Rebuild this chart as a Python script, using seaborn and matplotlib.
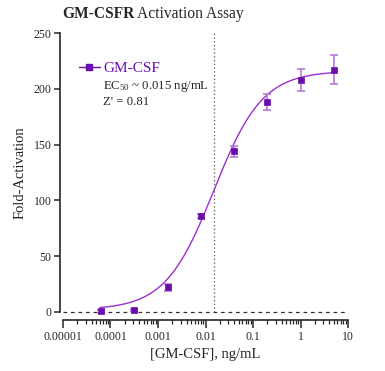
import numpy as np
import pandas as pd
import matplotlib
matplotlib.use("Agg")
import matplotlib.pyplot as plt
import seaborn as sns
from matplotlib.lines import Line2D
from matplotlib.ticker import FixedLocator, LogLocator, NullFormatter

# ---- data ----
conc = [0.000064, 0.00032, 0.0016, 0.008, 0.04, 0.2, 1.0, 5.0]
fold = [0.5, 1.5, 22, 86, 144, 188, 208, 217]
err = [1, 1, 3, 2, 5, 7, 10, 13]

# 4PL fit parameters
fit_bottom = 2.0
fit_top = 216.0
fit_ec50 = 0.015
fit_hill = 0.85

x_ticks = [0.00001, 0.0001, 0.001, 0.01, 0.1, 1, 10]
x_tick_labels = ["0.00001", "0.0001", "0.001", "0.01", "0.1", "1", "10"]
y_ticks = [0, 50, 100, 150, 200, 250]

sns.set_style("ticks")
plt.rcParams["font.family"] = ["Liberation Serif", "DejaVu Serif"]
plt.rcParams["mathtext.fontset"] = "custom"
plt.rcParams["mathtext.rm"] = "Liberation Serif"
plt.rcParams["mathtext.it"] = "Liberation Serif:italic"

mark_col = "#6a0dad"
line_col = "#9b30d0"
err_col = "#b878d8"

fig = plt.figure(figsize=(3.85, 3.71), dpi=100)
ax = fig.add_axes([63/385, 1-312/371, (348-63)/385, (312-33)/371])

xs = np.logspace(np.log10(0.00006), np.log10(5), 300)
ys = fit_bottom + (fit_top - fit_bottom) / (1 + (fit_ec50 / xs) ** fit_hill)
curve = pd.DataFrame({"x": xs, "y": ys})
sns.lineplot(data=curve, x="x", y="y", ax=ax, color=line_col, lw=1.0)

ax.errorbar(conc, fold, yerr=err, fmt="none", ecolor=err_col, elinewidth=1.2,
            capsize=3, capthick=1.2, clip_on=False, zorder=3)
pts = pd.DataFrame({"conc": conc, "fold": fold})
sns.scatterplot(data=pts, x="conc", y="fold", ax=ax, marker="s", s=22,
                color=mark_col, edgecolor=mark_col, linewidth=0.5, zorder=4,
                clip_on=False)

ax.axhline(0, color="#333333", ls=(0, (3, 3)), lw=0.9, zorder=1, clip_on=False)
ax.axvline(fit_ec50, color="#555555", ls=(0, (1, 2)), lw=0.9, zorder=1)

ax.set_xscale("log")
ax.set_xlim(0.00001, 10)
ax.set_ylim(0, 250)
ax.xaxis.set_major_locator(FixedLocator(x_ticks))
ax.set_xticklabels(x_tick_labels)
ax.xaxis.set_minor_locator(LogLocator(base=10, subs=np.arange(2, 10)))
ax.xaxis.set_minor_formatter(NullFormatter())
ax.set_yticks(y_ticks)

for s in ["top", "right"]:
    ax.spines[s].set_visible(False)
ax.spines["bottom"].set_position(("outward", 6))
ax.spines["left"].set_position(("outward", 2.2))
ax.spines["bottom"].set_linewidth(1.2)
ax.spines["left"].set_linewidth(1.2)
ax.tick_params(axis="both", which="major", length=4, width=1.1, labelsize=8.5, pad=2)
ax.tick_params(axis="x", which="major", length=6)
ax.tick_params(axis="x", which="minor", length=3, width=0.9)

ax.set_xlabel("[GM-CSF], ng/mL", fontsize=10.5, labelpad=3)
ax.set_ylabel("Fold-Activation", fontsize=10.5, labelpad=5, color="#222222")

# title: bold part + regular part
t1 = fig.text(62/385, 1-22/371, "GM-CSFR", fontsize=11.2, fontweight="bold", va="bottom", ha="left")
fig.canvas.draw()
ax.annotate(" Activation Assay", xy=(1, 0), xycoords=t1, fontsize=11.2,
            va="bottom", ha="left", annotation_clip=False)

handle = Line2D([], [], color=mark_col, marker="s", markersize=4.5, lw=1.0)
leg = ax.legend([handle], ["GM-CSF"], loc="center left",
                bbox_to_anchor=(79/385, 1-68/371), bbox_transform=fig.transFigure,
                frameon=False, fontsize=11, handlelength=1.35, handletextpad=0.25,
                labelcolor=mark_col, borderaxespad=0, borderpad=0)
ax.text(103/385, 1-89/371, "EC$_{50}$ ~ 0.015 ng/mL", transform=fig.transFigure,
        fontsize=9.2, va="baseline", ha="left")
ax.text(103/385, 1-105/371, "Z' = 0.81", transform=fig.transFigure,
        fontsize=9.2, va="baseline", ha="left")

fig.savefig("out.png", dpi=100)
